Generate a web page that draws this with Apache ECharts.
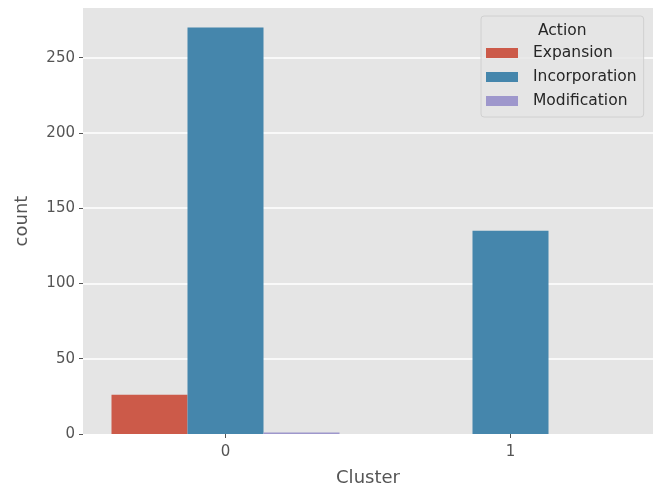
<!DOCTYPE html>
<html>
<head>
<meta charset="utf-8">
<script src="https://cdn.jsdelivr.net/npm/echarts@6/dist/echarts.min.js"></script>
<style>
  html, body { margin: 0; padding: 0; background: #fff; }
  #chart { width: 661px; height: 490px; }
</style>
</head>
<body>
<div id="chart"></div>
<script>
(function() {
  // data
  var clusters = ["0", "1"];
  var actions = ["Expansion", "Incorporation", "Modification"];
  var expansion = [26, 0];
  var incorporation = [270, 135];
  var modification = [1, 0];
  var yTicks = [0, 50, 100, 150, 200, 250];

  var colors = ["#CC5A49", "#4586AC", "#9E97CC"]; // seaborn-desaturated ggplot colours
  var font = "DejaVu Sans";

  var myChart = echarts.init(document.getElementById("chart"));

  var seriesData = [expansion, incorporation, modification];
  var series = actions.map(function(name, i) {
    return {
      name: name,
      type: "bar",
      data: seriesData[i],
      barGap: "0%",
      barCategoryGap: "20%",
      itemStyle: { color: colors[i] }
    };
  });

  var option = {
    animation: false,
    textStyle: { fontFamily: font },
    title: {
      text: "Action",
      left: 533,
      top: 18,
      textStyle: { fontFamily: font, fontSize: 15.5, fontWeight: "normal", color: "#262626" }
    },
    legend: {
      data: actions,
      orient: "vertical",
      left: 481,
      top: 16,
      padding: [29, 7, 8, 5],
      itemWidth: 32,
      itemHeight: 10,
      itemGap: 8,
      icon: "rect",
      backgroundColor: "rgba(229,229,229,0.8)",
      borderColor: "#D0D0D0",
      borderWidth: 1,
      borderRadius: 3,
      textStyle: { fontFamily: font, fontSize: 15.5, lineHeight: 16, color: "#262626", padding: [0, 0, 0, 10] }
    },
    grid: {
      left: 83,
      right: 8,
      top: 8,
      bottom: 56,
      outerBoundsMode: "none",
      show: true,
      backgroundColor: "#E5E5E5",
      borderWidth: 0
    },
    xAxis: {
      type: "category",
      data: clusters,
      name: "Cluster",
      nameLocation: "middle",
      nameGap: 35,
      nameTextStyle: { fontSize: 18, color: "#555555" },
      axisLine: { show: false },
      axisTick: { show: true, alignWithLabel: true, length: 4, lineStyle: { color: "#555555" } },
      axisLabel: { fontSize: 15, color: "#555555", margin: 11 },
      splitLine: { show: false }
    },
    yAxis: {
      type: "value",
      min: yTicks[0],
      max: 283,
      interval: yTicks[1] - yTicks[0],
      name: "count",
      nameLocation: "middle",
      nameGap: 52,
      nameTextStyle: { fontSize: 18, color: "#555555" },
      axisLine: { show: false },
      axisTick: { show: true, length: 4, lineStyle: { color: "#555555" } },
      axisLabel: { fontSize: 15, color: "#555555", margin: 8, showMaxLabel: false },
      splitLine: { show: true, showMinLine: false, showMaxLine: false, lineStyle: { color: "#FFFFFF", width: 1.5 } }
    },
    series: series
  };
  myChart.setOption(option);
  window.addEventListener("resize", function() {
    myChart.resize();
  });
})();
</script>
</body>
</html>
